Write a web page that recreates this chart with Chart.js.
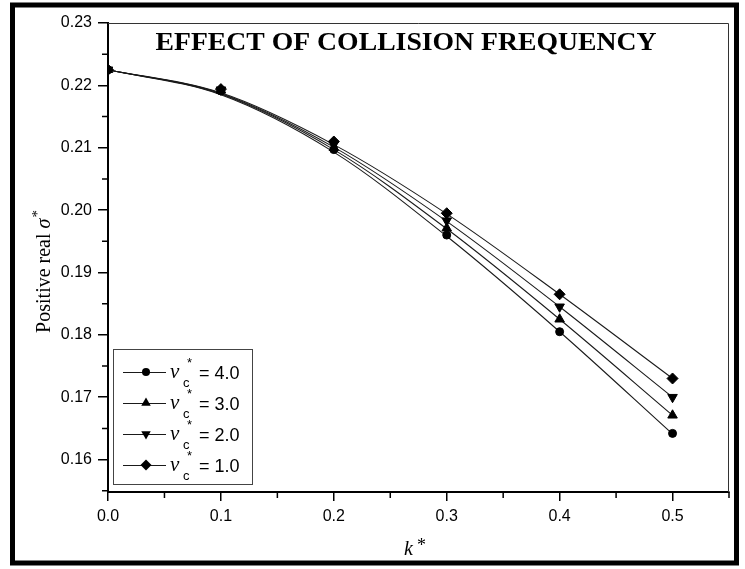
<!DOCTYPE html>
<html><head><meta charset="utf-8">
<script src="https://cdn.jsdelivr.net/npm/chart.js@4.4.1/dist/chart.umd.min.js"></script>
<style>html,body{margin:0;padding:0;background:#fff;}canvas{display:block;}</style>
</head><body>
<canvas id="c" width="745" height="569"></canvas>
<script>
// ---- data ----
const kValues = [0.0, 0.1, 0.2, 0.3, 0.4, 0.5];
// measured points
const sigmaNu4 = [0.2225, 0.2191, 0.2097, 0.1960, 0.1805, 0.1642];
const sigmaNu3 = [0.2225, 0.2192, 0.2100, 0.1971, 0.1825, 0.1671];
const sigmaNu2 = [0.2225, 0.2193, 0.2105, 0.1983, 0.1845, 0.1700];
const sigmaNu1 = [0.2225, 0.2194, 0.2110, 0.1995, 0.1865, 0.1730];
// fitted curves read at the same k values
const fitNu4 = [0.2225, 0.2185, 0.2093, 0.1958, 0.1805, 0.1641];
const fitNu3 = [0.2225, 0.2186, 0.2097, 0.1970, 0.1825, 0.1671];
const fitNu2 = [0.2225, 0.2187, 0.2101, 0.1982, 0.1845, 0.1700];
const fitNu1 = [0.2225, 0.2188, 0.2105, 0.1994, 0.1865, 0.1730];
const nuLabels = ['4.0', '3.0', '2.0', '1.0'];
const xMajorTicks = [0.0, 0.1, 0.2, 0.3, 0.4, 0.5];
const xMinorTicks = [0.05, 0.15, 0.25, 0.35, 0.45, 0.55];
const yMajorTicks = [0.16, 0.17, 0.18, 0.19, 0.20, 0.21, 0.22, 0.23];
const yMinorTicks = [0.155, 0.165, 0.175, 0.185, 0.195, 0.205, 0.215, 0.225];
const chartTitle = 'EFFECT OF COLLISION FREQUENCY';

const pts = (ys) => kValues.map((k, i) => ({x: k, y: ys[i]}));
const markerDefs = [
  {style: 'circle', rot: 0, r: 4},
  {style: 'triangle', rot: 0, r: 5.5},
  {style: 'triangle', rot: 180, r: 5.5},
  {style: 'rectRot', rot: 0, r: 5.5}
];
const pointSeries = [sigmaNu4, sigmaNu3, sigmaNu2, sigmaNu1];
const fitSeries = [fitNu4, fitNu3, fitNu2, fitNu1];

const datasets = [];
pointSeries.forEach((s, i) => datasets.push({
  label: 'points ' + nuLabels[i], data: pts(s), showLine: false,
  pointStyle: markerDefs[i].style, rotation: markerDefs[i].rot, pointRadius: markerDefs[i].r,
  backgroundColor: '#000', borderColor: '#000', borderWidth: 1
}));
fitSeries.forEach((s, i) => datasets.push({
  label: 'fit ' + nuLabels[i], data: pts(s), showLine: true, pointRadius: 0,
  borderColor: '#1a1a1a', borderWidth: 1.1, cubicInterpolationMode: 'monotone', fill: false
}));

function drawMarker(ctx, def, x, y) {
  ctx.beginPath();
  const r = def.r;
  if (def.style === 'circle') {
    ctx.arc(x, y, r, 0, Math.PI * 2);
  } else if (def.style === 'triangle') {
    let rad = def.rot * Math.PI / 180;
    ctx.moveTo(x + Math.sin(rad) * r, y - Math.cos(rad) * r);
    rad += 2 * Math.PI / 3;
    ctx.lineTo(x + Math.sin(rad) * r, y - Math.cos(rad) * r);
    rad += 2 * Math.PI / 3;
    ctx.lineTo(x + Math.sin(rad) * r, y - Math.cos(rad) * r);
    ctx.closePath();
  } else {
    ctx.moveTo(x, y - r); ctx.lineTo(x + r, y); ctx.lineTo(x, y + r); ctx.lineTo(x - r, y); ctx.closePath();
  }
  ctx.fill();
}

const decor = {
  id: 'decor',
  beforeDraw(chart) {
    const ctx = chart.ctx;
    ctx.save(); ctx.fillStyle = '#fff'; ctx.fillRect(0, 0, chart.width, chart.height); ctx.restore();
  },
  afterDraw(chart) {
    const ctx = chart.ctx, a = chart.chartArea, xs = chart.scales.x, ys = chart.scales.y;
    ctx.save();
    // top and right box lines
    ctx.strokeStyle = '#333'; ctx.lineWidth = 1;
    ctx.beginPath();
    ctx.moveTo(a.left, a.top + 0.5); ctx.lineTo(a.right - 0.5, a.top + 0.5); ctx.lineTo(a.right - 0.5, a.bottom);
    ctx.stroke();
    // minor ticks
    ctx.strokeStyle = '#000'; ctx.lineWidth = 1.5;
    ctx.beginPath();
    xMinorTicks.forEach(v => { const p = xs.getPixelForValue(v); ctx.moveTo(p, a.bottom); ctx.lineTo(p, a.bottom + 6); });
    yMinorTicks.forEach(v => { const p = ys.getPixelForValue(v); ctx.moveTo(a.left, p); ctx.lineTo(a.left - 6, p); });
    ctx.stroke();
    // title
    ctx.fillStyle = '#000';
    ctx.font = 'bold 26px "Liberation Serif", "Times New Roman", serif';
    ctx.textBaseline = 'alphabetic'; ctx.textAlign = 'left';
    const tw = ctx.measureText(chartTitle).width;
    const target = 501, sx = target / tw;
    ctx.save(); ctx.translate(406 - target / 2, 50); ctx.scale(sx, 1); ctx.fillText(chartTitle, 0, 0); ctx.restore();
    // y axis title
    ctx.save();
    ctx.translate(50, 272); ctx.rotate(-Math.PI / 2);
    const f1 = '20px "Liberation Serif", serif', f2 = 'italic 20px "Liberation Serif", serif', f3 = '15px "Liberation Serif", serif';
    ctx.font = f1; const w1 = ctx.measureText('Positive real ').width;
    ctx.font = f2; const w2 = ctx.measureText('σ').width;
    ctx.font = f3; const w3 = ctx.measureText('*').width;
    let x0 = -(w1 + w2 + w3) / 2;
    ctx.font = f1; ctx.fillText('Positive real ', x0, 0);
    ctx.font = f2; ctx.fillText('σ', x0 + w1, 0);
    ctx.font = f3; ctx.fillText('*', x0 + w1 + w2 + 1, -8);
    ctx.restore();
    // x axis title
    ctx.font = 'italic 20px "Liberation Serif", serif';
    const kw = ctx.measureText('k').width;
    ctx.fillText('k', 404, 555);
    ctx.font = '18px "Liberation Serif", serif';
    ctx.fillText('*', 404 + kw + 4, 551);
    // legend
    const lx = 113, ly = 349, lw = 139, lh = 135;
    ctx.strokeStyle = '#444'; ctx.lineWidth = 1;
    ctx.strokeRect(lx + 0.5, ly + 0.5, lw, lh);
    nuLabels.forEach((lab, i) => {
      const cy = 372 + i * 31;
      ctx.strokeStyle = '#1a1a1a'; ctx.lineWidth = 1.1;
      ctx.beginPath(); ctx.moveTo(123, cy + 0.5); ctx.lineTo(166, cy + 0.5); ctx.stroke();
      ctx.fillStyle = '#000';
      drawMarker(ctx, markerDefs[i], 146, cy);
      ctx.font = 'italic 21px "Liberation Serif", serif';
      ctx.fillText('ν', 170, cy + 6);
      ctx.font = '13px "Liberation Sans", Arial, sans-serif';
      ctx.fillText('c', 183, cy + 15);
      ctx.font = '13px "Liberation Sans", Arial, sans-serif';
      ctx.fillText('*', 187, cy - 5);
      ctx.font = '18px "Liberation Sans", Arial, sans-serif';
      ctx.fillText('= ' + lab, 199, cy + 7);
    });
    // outer frame
    ctx.strokeStyle = '#000'; ctx.lineWidth = 5;
    ctx.strokeRect(12.5, 5, 724, 558);
    ctx.restore();
  }
};

new Chart(document.getElementById('c'), {
  type: 'scatter',
  data: {datasets},
  plugins: [decor],
  options: {
    responsive: false, animation: false, devicePixelRatio: 1,
    layout: {padding: {left: 0, top: 23, right: 16, bottom: 0}},
    plugins: {legend: {display: false}, tooltip: {enabled: false}, title: {display: false}},
    scales: {
      x: {
        type: 'linear', min: 0, max: 0.55,
        afterBuildTicks: s => { s.ticks = xMajorTicks.map(v => ({value: v})); },
        afterFit: s => { s.height = 77; },
        ticks: {callback: v => Number(v).toFixed(1), color: '#000', padding: 6,
          font: {family: '"Liberation Sans", Arial, sans-serif', size: 16}},
        grid: {display: true, drawOnChartArea: false, drawTicks: true, tickLength: 9, color: '#000', lineWidth: 1.5},
        border: {display: true, color: '#000', width: 2}
      },
      y: {
        type: 'linear', min: 0.1548, max: 0.23,
        afterBuildTicks: s => { s.ticks = yMajorTicks.map(v => ({value: v})); },
        afterFit: s => { s.width = 108; },
        ticks: {callback: v => Number(v).toFixed(2), color: '#000', padding: 6,
          font: {family: '"Liberation Sans", Arial, sans-serif', size: 16}},
        grid: {display: true, drawOnChartArea: false, drawTicks: true, tickLength: 10, color: '#000', lineWidth: 1.5},
        border: {display: true, color: '#000', width: 2}
      }
    }
  }
});
</script>
</body></html>
